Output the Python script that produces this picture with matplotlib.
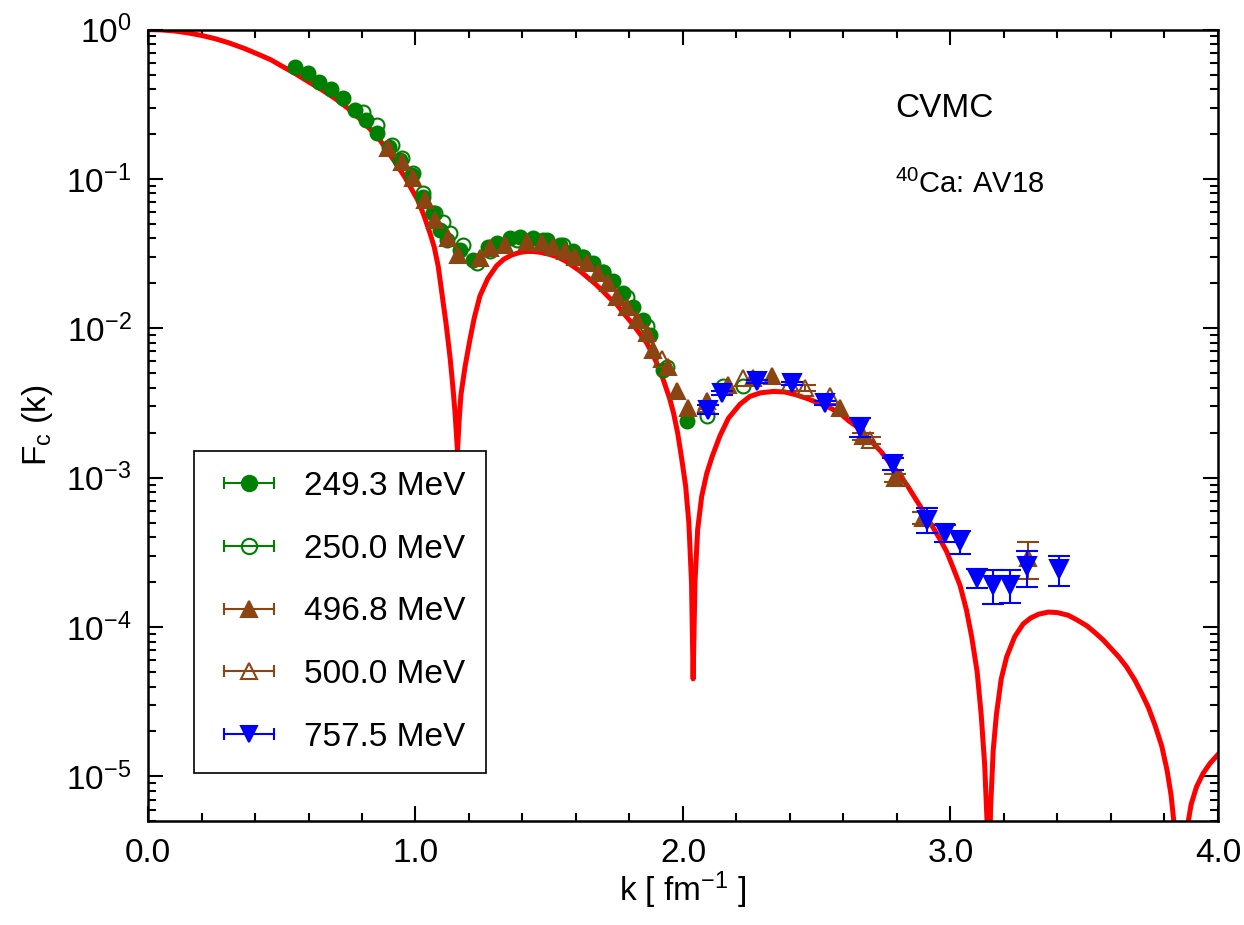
import matplotlib
matplotlib.use('Agg')
import matplotlib.pyplot as plt
from matplotlib.lines import Line2D
from matplotlib.legend_handler import HandlerLine2D, HandlerTuple

plt.rcParams['font.family'] = ['Liberation Sans', 'DejaVu Sans']
plt.rcParams['mathtext.default'] = 'regular'

# 理論曲線 (CVMC, AV18)
k_theory = [0.0, 0.05, 0.1, 0.15, 0.2, 0.25, 0.3, 0.36, 0.419, 0.46, 0.5, 0.55, 0.6, 0.65,
            0.7, 0.75, 0.8, 0.86, 0.917, 0.96, 1.007, 1.03, 1.054, 1.07, 1.085, 1.10, 1.115,
            1.13, 1.14, 1.148, 1.157, 1.163, 1.17, 1.185, 1.204, 1.22, 1.241, 1.27, 1.303,
            1.33, 1.36, 1.39, 1.416, 1.44, 1.47, 1.50, 1.528, 1.56, 1.59, 1.615, 1.64, 1.67,
            1.70, 1.725, 1.752, 1.78, 1.81, 1.837, 1.864, 1.885, 1.905, 1.925, 1.95, 1.965,
            1.98, 1.995, 2.01, 2.022, 2.032, 2.038, 2.045, 2.055, 2.07, 2.089, 2.11, 2.138,
            2.17, 2.213, 2.25, 2.29, 2.338, 2.38, 2.42, 2.462, 2.50, 2.54, 2.587, 2.62, 2.65,
            2.68, 2.711, 2.74, 2.774, 2.81, 2.84, 2.87, 2.898, 2.93, 2.96, 2.986, 3.01, 3.036,
            3.06, 3.08, 3.10, 3.115, 3.128, 3.137, 3.143, 3.150, 3.16, 3.172, 3.19, 3.21, 3.24,
            3.272, 3.30, 3.33, 3.366, 3.40, 3.44, 3.472, 3.51, 3.54, 3.571, 3.60, 3.63, 3.659,
            3.69, 3.715, 3.74, 3.765, 3.79, 3.81, 3.825, 3.838, 3.862, 3.885, 3.90, 3.92, 3.945,
            3.97, 4.0]
fc_theory = [1.0, 0.995, 0.978, 0.95, 0.914, 0.87, 0.818, 0.748, 0.675, 0.627, 0.57, 0.508, 0.447, 0.395,
             0.345, 0.295, 0.245, 0.19, 0.135, 0.103, 0.073, 0.058, 0.0435, 0.035, 0.026, 0.0165, 0.0105,
             0.0062, 0.0040, 0.0027, 0.0015, 0.0024, 0.0036, 0.0055, 0.0085, 0.0118, 0.0165, 0.0215, 0.0262,
             0.029, 0.031, 0.0322, 0.0327, 0.0327, 0.0322, 0.0313, 0.0302, 0.0283, 0.026, 0.0242, 0.0222, 0.0200,
             0.0178, 0.0160, 0.0145, 0.0125, 0.0108, 0.0093, 0.0080, 0.0068, 0.0057, 0.0046, 0.0034, 0.0027,
             0.0020, 0.00135, 0.00088, 0.0005, 0.0002, 4.5e-5, 0.0002, 0.00045, 0.00075, 0.00107, 0.0014, 0.0019,
             0.0025, 0.0031, 0.0035, 0.0037, 0.00378, 0.00375, 0.0036, 0.0034, 0.0032, 0.0030, 0.0027, 0.0024, 0.0022,
             0.0019, 0.0017, 0.0015, 0.00125, 0.00105, 0.00088, 0.00072, 0.00060, 0.00048, 0.00039, 0.00032, 0.00025, 0.00019,
             0.00013, 8.5e-5, 5e-5, 2.6e-5, 1.2e-5, 5e-6, 1e-6, 6e-6, 1.5e-5, 2.6e-5, 4.5e-5, 6.3e-5, 8.6e-5,
             1.05e-4, 1.15e-4, 1.22e-4, 1.26e-4, 1.25e-4, 1.2e-4, 1.12e-4, 1.02e-4, 9.2e-5, 8.2e-5, 7.2e-5, 6.3e-5, 5.4e-5,
             4.4e-5, 3.6e-5, 2.9e-5, 2.2e-5, 1.6e-5, 1.1e-5, 7.5e-6, 4.5e-6, 1e-6, 4.5e-6, 6.5e-6, 8.5e-6, 1.05e-5,
             1.22e-5, 1.4e-5]

# 249.3 MeV
k_249 = [0.549, 0.597, 0.640, 0.684, 0.730, 0.774, 0.815, 0.857, 0.902, 0.942, 0.986, 1.029,
         1.067, 1.092, 1.117, 1.166, 1.216, 1.272, 1.304, 1.353, 1.391, 1.440, 1.490, 1.540,
         1.590, 1.627, 1.665, 1.702, 1.739, 1.776, 1.814, 1.852, 1.877, 1.926, 2.014]
fc_249 = [0.561, 0.509, 0.448, 0.398, 0.347, 0.290, 0.248, 0.202, 0.164, 0.134, 0.106, 0.0762,
          0.0590, 0.0456, 0.0391, 0.0335, 0.0287, 0.0352, 0.0372, 0.0401, 0.0411, 0.0401, 0.0391, 0.0362,
          0.0327, 0.0302, 0.0273, 0.0240, 0.0206, 0.0172, 0.0140, 0.0114, 0.00906, 0.00528, 0.00238]

# 250.0 MeV
k_250 = [0.805, 0.855, 0.911, 0.948, 0.992, 1.029, 1.073, 1.104, 1.129, 1.179, 1.229, 1.279,
         1.378, 1.478, 1.553, 1.627, 1.702, 1.790, 1.864, 1.939, 2.089, 2.151, 2.225]
fc_250 = [0.282, 0.230, 0.169, 0.138, 0.109, 0.0802, 0.0590, 0.0518, 0.0433, 0.0362, 0.0273, 0.0327,
          0.0391, 0.0391, 0.0362, 0.0302, 0.0240, 0.0163, 0.0103, 0.00555, 0.00257, 0.00408, 0.00408]

# 496.8 MeV
k_497 = [0.898, 0.948, 0.992, 1.036, 1.073, 1.123, 1.160, 1.241, 1.279, 1.335, 1.416, 1.472,
         1.515, 1.559, 1.596, 1.640, 1.683, 1.721, 1.752, 1.790, 1.827, 1.864, 1.889, 1.945,
         1.976, 2.020, 2.089, 2.169, 2.263, 2.332, 2.587, 2.674, 2.793, 2.898, 3.291]
fc_497 = [0.160, 0.130, 0.101, 0.0724, 0.0532, 0.0401, 0.0310, 0.0295, 0.0344, 0.0362, 0.0381, 0.0372,
          0.0352, 0.0327, 0.0302, 0.0273, 0.0234, 0.0201, 0.0163, 0.0140, 0.0114, 0.00929, 0.00718, 0.00555,
          0.00378, 0.00292, 0.00324, 0.00419, 0.00464, 0.00476, 0.00292, 0.00189, 0.000995, 0.000537, 0.00029]
err_497 = [0, 0, 0, 0, 0, 0, 0, 0, 0, 0, 0, 0,
           0, 0, 0, 0, 0, 0, 0, 0, 0, 0, 0, 0,
           0, 0, 0, 0, 0, 0, 0, 0.0001, 0.00006, 0.00005, 0.00008]

# 500.0 MeV
k_500 = [1.92, 2.086, 2.225, 2.400, 2.456, 2.550, 2.699, 2.811]
fc_500 = [0.0062, 0.0031, 0.00465, 0.0043, 0.00398, 0.0035, 0.00178, 0.00100]
err_500 = [0, 0, 0, 0, 0.0002, 0, 0.0001, 0]

# 757.5 MeV
k_758 = [2.094, 2.145, 2.275, 2.406, 2.531, 2.662, 2.785, 2.911, 2.979, 3.036, 3.098, 3.160,
         3.222, 3.285, 3.406]
fc_758 = [0.00285, 0.00369, 0.00441, 0.00430, 0.00316, 0.00220, 0.00124, 0.000524, 0.000427,
          0.000375, 0.000213, 0.000192, 0.000192, 0.000255, 0.000243]
err_758 = [0.0002, 0.0001, 0.0001, 0.0001, 0.00008, 0.00032, 0.00012, 0.0001, 0.000055,
           0.000065, 0.00003, 0.00005, 0.000048, 0.000069, 0.000056]

green = '#008000'
brown = '#8b4513'
blue = '#0000ff'

fig = plt.figure(figsize=(12.44, 9.25), dpi=100)
ax = fig.add_axes([0.119, 0.112, 0.860, 0.856])

ax.plot(k_theory, fc_theory, color='red', lw=3.6, zorder=2, solid_joinstyle='round')


def draw_series(k, fc, err, color, marker, ms, filled, z):
    # エラーバーは誤差のある点だけ描く
    if err is not None:
        ke = [a for a, e in zip(k, err) if e > 0]
        fe = [b for b, e in zip(fc, err) if e > 0]
        ee = [e for e in err if e > 0]
        ax.errorbar(ke, fe, yerr=ee, fmt='none', ecolor=color, capsize=8, elinewidth=1.5,
                    capthick=1.5, zorder=z)
    ax.plot(k, fc, ls='none', marker=marker, ms=ms, color=color,
            mfc=color if filled else 'none', mec=color, mew=1.5, zorder=z)


draw_series(k_249, fc_249, None, green, 'o', 10, True, 3)
draw_series(k_250, fc_250, None, green, 'o', 10, False, 3)
draw_series(k_497, fc_497, err_497, brown, '^', 12, True, 4)
draw_series(k_500, fc_500, err_500, brown, '^', 12, False, 4)
draw_series(k_758, fc_758, err_758, blue, 'v', 13, True, 5)

ax.set_yscale('log')
ax.set_xlim(0, 4)
ax.set_ylim(5e-6, 1)
ax.set_xticks([0, 1, 2, 3, 4])
ax.set_xticklabels(['0.0', '1.0', '2.0', '3.0', '4.0'])
ax.set_xticks([i * 0.2 for i in range(21)], minor=True)
ax.tick_params(which='both', direction='in', top=True, right=True, labelsize=24, width=1.5)
ax.tick_params(which='major', length=11)
ax.tick_params(which='minor', length=6)
ax.tick_params(axis='x', which='major', pad=12)
ax.tick_params(axis='y', which='major', pad=12)
for s in ax.spines.values():
    s.set_linewidth(1.8)

ax.set_xlabel('k [ fm$^{-1}$ ]', fontsize=24, labelpad=0)
ax.set_ylabel('F$_c$ (k)', fontsize=24, labelpad=8)

ax.text(0.698, 0.90, 'CVMC', transform=ax.transAxes, fontsize=24, va='center')
ax.text(0.698, 0.805, '$^{40}$Ca: AV18', transform=ax.transAxes, fontsize=21, va='center')

# 凡例 (横向きエラーバー風)
labels = ['249.3 MeV', '250.0 MeV', '496.8 MeV', '500.0 MeV', '757.5 MeV']
styles = [('o', green, green), ('o', green, 'none'), ('^', brown, brown), ('^', brown, 'none'),
          ('v', blue, blue)]
handles = []
hmap = {}
for m, c, fc in styles:
    bar = Line2D([], [], color=c, lw=1.5, marker='|', ms=8, mew=1.5)
    mk = Line2D([], [], color=c, lw=0, marker=m, mfc=fc, mec=c, mew=1.5, ms=12 if m != 'o' else 11)
    hmap[bar] = HandlerLine2D(numpoints=2)
    hmap[mk] = HandlerLine2D(numpoints=1)
    handles.append((bar, mk))
hmap[tuple] = HandlerTuple(ndivide=1)
leg = ax.legend(handles, labels, handler_map=hmap, loc='lower left', bbox_to_anchor=(0.043, 0.0615),
                borderaxespad=0, fontsize=24, handlelength=2.1, handletextpad=0.6, labelspacing=0.95,
                borderpad=0.6, fancybox=False, framealpha=1, edgecolor='black')
leg.get_frame().set_linewidth(1.2)

fig.savefig('out.png', dpi=100)
